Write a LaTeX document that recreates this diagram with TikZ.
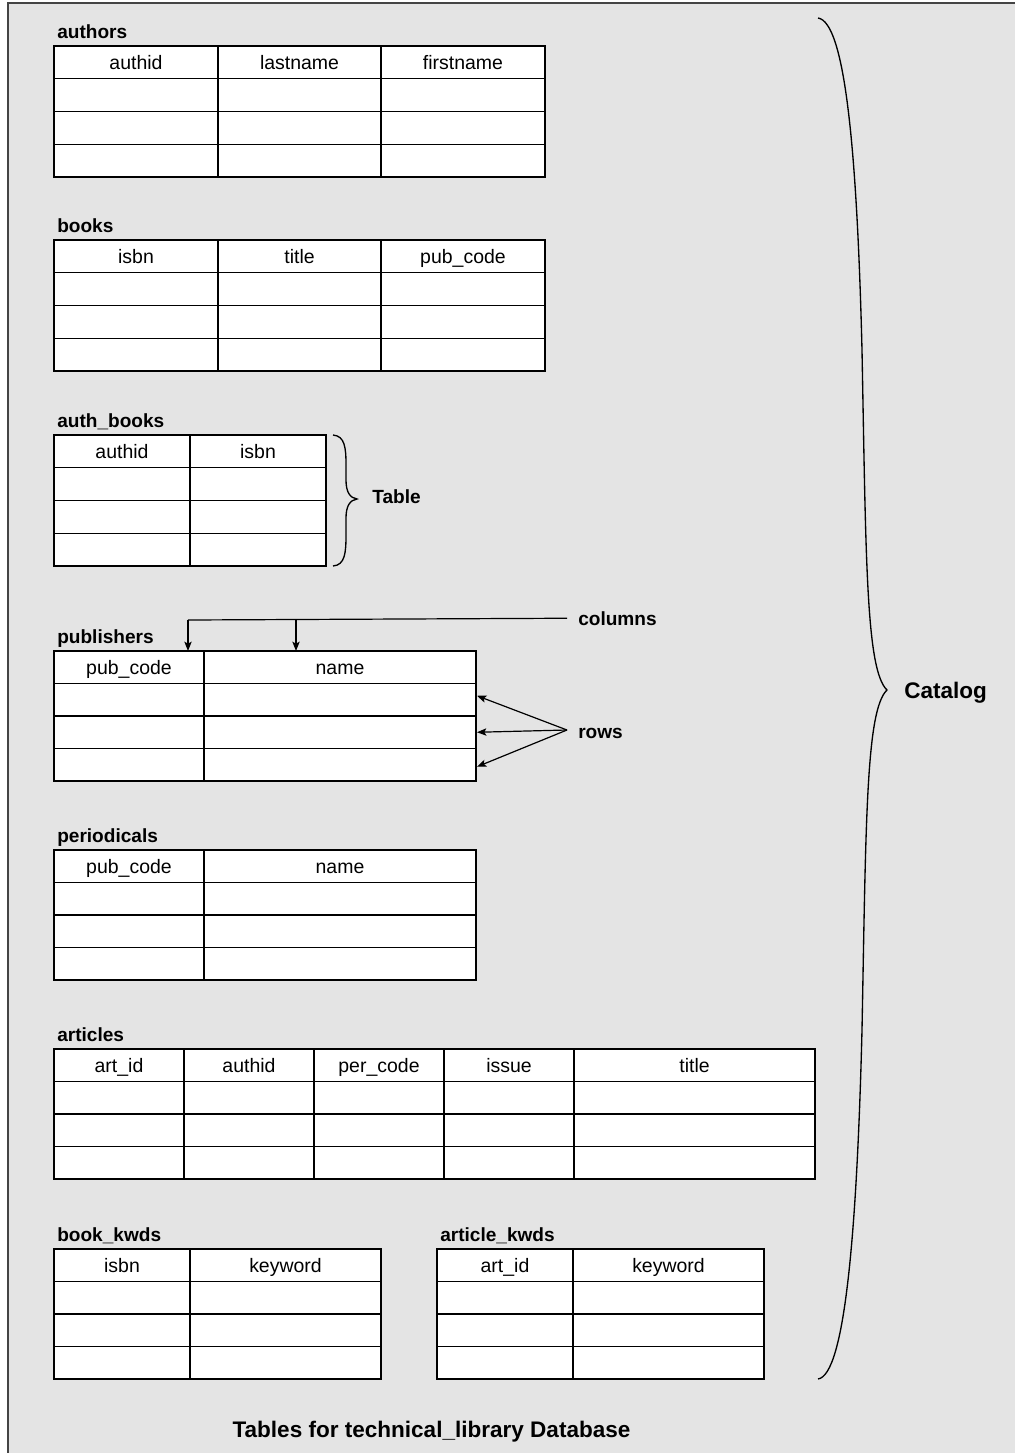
\documentclass[tikz,border=0pt]{standalone}
\usepackage{fontspec}
\setmainfont{Liberation Sans}
\usetikzlibrary{arrows.meta,calc}
\definecolor{bggray}{HTML}{E4E4E4}
\definecolor{framegray}{HTML}{444444}
\newcommand{\dbtable}[4]{% name, top y, bottom y, list xl/xr/header/col
  \foreach \xl/\xr/\hd/\cc in {#4}{
    \foreach \rr in {0,1,2,3}{
      \pgfmathsetmacro{\rowh}{(#3-#2)/4}
      \pgfmathsetmacro{\yc}{#2+(\rr+0.5)*\rowh}
      \pgfmathsetmacro{\cellw}{(\xr-\xl)*0.75}
      \pgfmathsetmacro{\cellh}{\rowh*0.75}
      \node[cell, minimum width=\cellw pt, minimum height=\cellh pt] (#1-\rr-\cc) at ({(\xl+\xr)/2},\yc) {\ifnum\rr=0 \hd\fi};
    }}}
\begin{document}
\begin{tikzpicture}[x=0.75pt,y=-0.75pt,
  cell/.style={draw=black, fill=white, line width=1.1pt, inner sep=0pt, outer sep=0pt,
    text height=11.5pt, text depth=1pt,
    font=\fontsize{14.6}{16}\selectfont},
  tlabel/.style={font=\fontsize{14.3}{16}\selectfont\bfseries, anchor=base west, inner sep=0pt},
  biglabel/.style={font=\fontsize{16.9}{19}\selectfont\bfseries, inner sep=0pt},
  conn/.style={line width=0.9pt, -{Stealth[length=7pt,width=5.5pt,inset=1.5pt]}},
  bracel/.style={line width=1pt}
]
\useasboundingbox (0,0) rectangle (1015,1453);
\fill[white] (0,0) rectangle (1015,1453);
\fill[bggray] (8,3) rectangle (1015,1453);
\draw[framegray, line width=1.4pt] (8,1453) -- (8,3) -- (1015,3);

% tables
\node[tlabel] (l-authors) at (57,38) {authors};
\dbtable{authors}{46}{177}{54/218/authid/1,218/381/lastname/2,381/545/firstname/3}

\node[tlabel] (l-books) at (57,232) {books};
\dbtable{books}{240}{371}{54/218/isbn/1,218/381/title/2,381/545/pub\_code/3}

\node[tlabel] (l-authbooks) at (57,427) {auth\_books};
\dbtable{authbooks}{435}{566}{54/190/authid/1,190/326/isbn/2}

\node[tlabel] (l-pub) at (57,643) {publishers};
\dbtable{pub}{651}{781}{54/204/pub\_code/1,204/476/name/2}

\node[tlabel] (l-per) at (57,842) {periodicals};
\dbtable{per}{850}{980}{54/204/pub\_code/1,204/476/name/2}

\node[tlabel] (l-art) at (57,1041) {articles};
\dbtable{art}{1049}{1179}{54/184/art\_id/1,184/314/authid/2,314/444/per\_code/3,444/574/issue/4,574/815/title/5}

\node[tlabel] (l-bkw) at (57,1241) {book\_kwds};
\dbtable{bkw}{1249}{1379}{54/190/isbn/1,190/381/keyword/2}

\node[tlabel] (l-akw) at (440,1241) {article\_kwds};
\dbtable{akw}{1249}{1379}{437/573/art\_id/1,573/764/keyword/2}

% Table brace
\draw[bracel] (333,435) .. controls (345,436) and (346,448) .. (346,465)
  -- (346,480) .. controls (346,492) and (350,498) .. (357,499)
  .. controls (350,500) and (346,506) .. (346,518)
  -- (346,535) .. controls (346,553) and (345,565) .. (333,566);
\node[tlabel] (tablel) at (372,503) {Table};

% Catalog brace
\draw[bracel] (818,18) .. controls (845,22) and (857,150) .. (862,350)
  .. controls (866,560) and (866,670) .. (887,690)
  .. controls (866,710) and (866,820) .. (862,1030)
  .. controls (857,1230) and (845,1375) .. (818,1379);
\node[biglabel, anchor=base west] (catalog) at (904,698) {Catalog};

% columns
\node[tlabel] (cols) at (578,625) {columns};
\coordinate (colA) at (188,620);
\coordinate (colB) at (296,620);
\draw[line width=0.9pt, shorten <=8.25pt] (cols.west) -- (colA);
\draw[conn] (colA) -- (colA |- pub-0-1.north);
\draw[conn] (colB) -- (colB |- pub-0-2.north);

% rows
\node[tlabel] (rowsl) at (578,738) {rows};
\coordinate (rowsapex) at (567,730);
\draw[conn] (rowsapex) -- ($(pub-1-2.east)+(1,-4)$);
\draw[conn] (rowsapex) -- ($(pub-2-2.east)+(1,0)$);
\draw[conn] (rowsapex) -- ($(pub-3-2.east)+(1,2)$);

% title
\node[biglabel, anchor=base] (title) at (431.5,1437) {Tables for technical\_library Database};
\end{tikzpicture}
\end{document}
